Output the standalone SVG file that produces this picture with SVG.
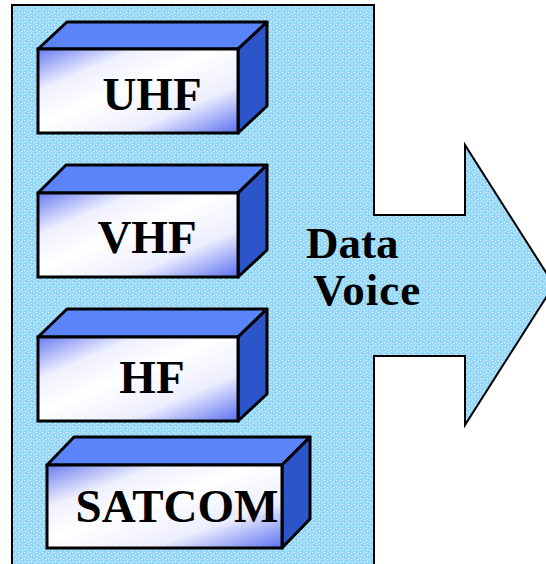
<svg xmlns="http://www.w3.org/2000/svg" width="546" height="564" viewBox="0 0 546 564">
<defs>
<pattern id="tex" width="6" height="6" patternUnits="userSpaceOnUse">
<rect width="6" height="6" fill="#9ad9f7"/>
<rect x="0" y="0" width="1" height="1" fill="#eaf8fe"/>
<rect x="3" y="1" width="1" height="1" fill="#d6f0fc"/>
<rect x="1" y="3" width="1" height="1" fill="#f0faff"/>
<rect x="4" y="4" width="1" height="1" fill="#cdedfb"/>
<rect x="2" y="5" width="1" height="1" fill="#78c9f0"/>
<rect x="5" y="2" width="1" height="1" fill="#80ccf2"/>
</pattern>
<linearGradient id="front" x1="0" y1="0" x2="1" y2="1">
<stop offset="0" stop-color="#6a7cf0"/>
<stop offset="0.25" stop-color="#eef0fe"/>
<stop offset="0.45" stop-color="#ffffff"/>
<stop offset="0.72" stop-color="#eceefe"/>
<stop offset="1" stop-color="#5a70f0"/>
</linearGradient>
<style>
.top{fill:#5b84fb;stroke:#000;stroke-width:3;stroke-linejoin:round}
.side{fill:#2c55c9;stroke:#000;stroke-width:3;stroke-linejoin:round}
.face{fill:url(#front);stroke:#000;stroke-width:3}
.lbl{font-family:"Liberation Serif","Times New Roman",serif;font-weight:bold;font-size:47px;fill:#000}
.big{font-family:"Liberation Serif","Times New Roman",serif;font-weight:bold;font-size:45px;fill:#000}
</style>
</defs>
<g id="panel">
<path d="M12,566 L12,5 L374,5 L374,215 L465,215 L465,145 L554,285 L465,425 L465,356 L374,356 L374,566" fill="url(#tex)" stroke="#000" stroke-width="2" stroke-linejoin="miter"/>
<text class="big" x="306" y="258">Data</text>
<text class="big" x="313" y="305" letter-spacing="1">Voice</text>
</g>
<g id="uhf">
<polygon class="top" points="38,49 67,22 267,22 238,49"/>
<polygon class="side" points="238,49 267,22 267,106 238,133"/>
<rect class="face" x="38" y="49" width="200" height="84"/>
<text class="lbl" x="152" y="110" text-anchor="middle">UHF</text>
</g>
<g id="vhf">
<polygon class="top" points="38,193 66,165 267,165 238,193"/>
<polygon class="side" points="238,193 267,165 267,250 238,277"/>
<rect class="face" x="38" y="193" width="200" height="84"/>
<text class="lbl" x="147" y="253" text-anchor="middle">VHF</text>
</g>
<g id="hf">
<polygon class="top" points="38,337 67,309 267,309 238,337"/>
<polygon class="side" points="238,337 267,309 267,394 238,421"/>
<rect class="face" x="38" y="337" width="200" height="84"/>
<text class="lbl" x="152" y="393" text-anchor="middle">HF</text>
</g>
<g id="satcom">
<polygon class="top" points="47,465 74,437 310,437 282,465"/>
<polygon class="side" points="282,465 310,437 310,519 282,548"/>
<rect class="face" x="47" y="465" width="235" height="83"/>
<text class="lbl" x="177" y="522" text-anchor="middle">SATCOM</text>
</g>
</svg>
